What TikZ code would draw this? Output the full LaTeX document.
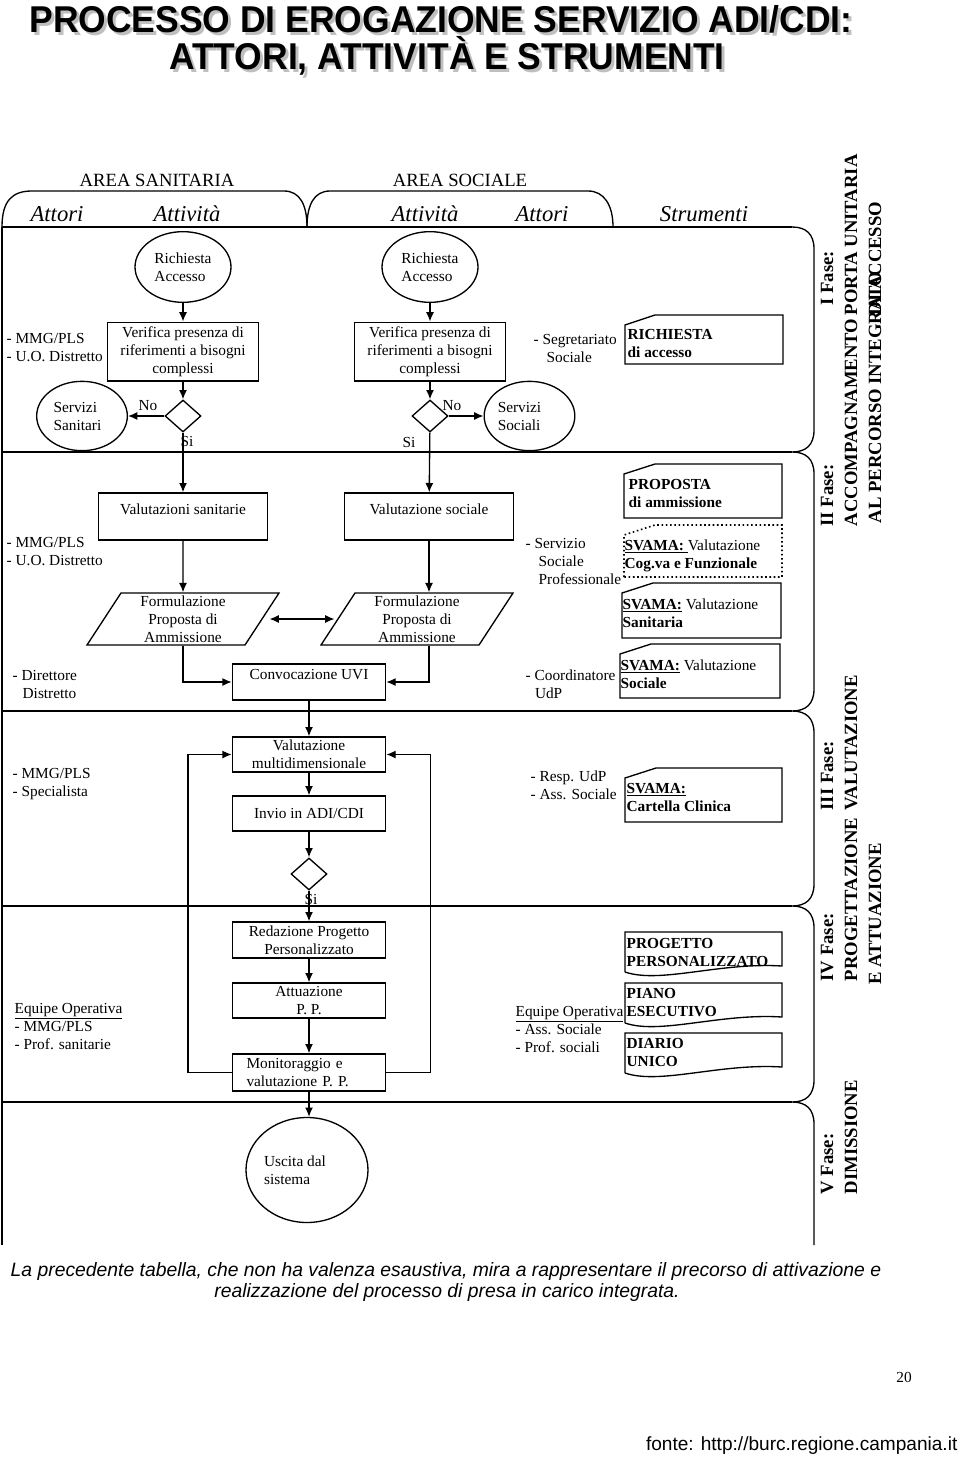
\documentclass[tikz,border=0pt]{standalone}
\usepackage{fontspec}
\setmainfont{Liberation Serif}
\setsansfont{Liberation Sans}
\usetikzlibrary{shapes.geometric,arrows.meta}

\tikzset{
  txt/.style={font=\fontsize{11.5}{13.5}\selectfont, inner sep=0pt},
  actbox/.style={txt, draw, rectangle, align=center, minimum width=115pt},
  startoval/.style={txt, draw, ellipse, align=left},
  decide/.style={draw, diamond, inner sep=0pt, minimum width=27pt, minimum height=24pt},
  propbox/.style={txt, draw, trapezium, trapezium left angle=54, trapezium right angle=126,
    trapezium stretches body=true, align=center, minimum width=144pt, minimum height=39pt},
  actor/.style={txt, align=left, anchor=base west},
  toolnote/.style={actor, font=\bfseries\fontsize{11.5}{13.5}\selectfont},
  fase/.style={rotate=90, anchor=base west, inner sep=0pt, font=\bfseries\fontsize{14}{16}\selectfont},
  colhead/.style={font=\itshape\fontsize{17}{20}\selectfont, anchor=base, inner sep=0pt},
  areahead/.style={font=\fontsize{14}{16}\selectfont, anchor=base, inner sep=0pt},
  titletxt/.style={font=\sffamily\bfseries\fontsize{28}{32}\selectfont, xscale=0.95, anchor=base, inner sep=0pt},
  notetxt/.style={font=\sffamily\itshape\fontsize{14.5}{17}\selectfont, anchor=base, inner sep=0pt},
}

\begin{document}
\begin{tikzpicture}[x=0.75pt, y=-0.75pt, line width=1pt, >={Latex[length=7pt,width=6pt]}]
    \useasboundingbox (0,0) rectangle (960,1459);

    % Title with shadow
    \node[titletxt, text=gray!50] at (444,36) {PROCESSO DI EROGAZIONE SERVIZIO ADI/CDI:};
    \node[titletxt] (title1) at (441,33) {PROCESSO DI EROGAZIONE SERVIZIO ADI/CDI:};
    \node[titletxt, text=gray!50] at (450,73) {ATTORI, ATTIVITÀ E STRUMENTI};
    \node[titletxt] (title2) at (447,70) {ATTORI, ATTIVITÀ E STRUMENTI};

    % Column headers
    \node[areahead] (areasan) at (157,186) {AREA SANITARIA};
    \node[areahead] (areasoc) at (460,186) {AREA SOCIALE};
    \draw (2,227) .. controls (2,201) and (12,191) .. (32,191) -- (284,191)
        .. controls (300,191) and (307,205) .. (307,227);
    \draw (307,227) .. controls (307,205) and (314,191) .. (330,191) -- (588,191)
        .. controls (604,191) and (613,205) .. (613,227);
    \node[colhead] (attori1) at (57,221) {Attori};
    \node[colhead] (attiv1) at (187,221) {Attività};
    \node[colhead] (attiv2) at (425,221) {Attività};
    \node[colhead] (attori2) at (542,221) {Attori};
    \node[colhead] (strum) at (704,221) {Strumenti};

    % Table frame and phase separators
    \draw (2,227) -- (2,1245);
    \foreach \y in {227,452,711,906,1102}
        \draw (2,\y) -- (792,\y);
    \draw (792,227) .. controls (806,227) and (814,234) .. (814,249)
        -- (814,430) .. controls (814,445) and (806,452) .. (792,452)
        .. controls (806,452) and (814,459) .. (814,474)
        -- (814,689) .. controls (814,704) and (806,711) .. (792,711)
        .. controls (806,711) and (814,718) .. (814,733)
        -- (814,884) .. controls (814,899) and (806,906) .. (792,906)
        .. controls (806,906) and (814,913) .. (814,928)
        -- (814,1080) .. controls (814,1095) and (806,1102) .. (792,1102)
        .. controls (806,1102) and (814,1109) .. (814,1124)
        -- (814,1245);

    % Phase labels
    \node[fase] (f1a) at (833,306) {I Fase:};
    \node[fase] (f1b) at (857,316) {PORTA UNITARIA};
    \node[fase] (f1c) at (881,316) {DI ACCESSO};
    \node[fase] (f2a) at (833,527) {II Fase:};
    \node[fase] (f2b) at (857,527) {ACCOMPAGNAMENTO};
    \node[fase] (f2c) at (881,524) {AL PERCORSO INTEGRATO};
    \node[fase] (f3a) at (833,811) {III Fase:};
    \node[fase] (f3b) at (857,811) {VALUTAZIONE};
    \node[fase] (f4a) at (833,982) {IV Fase:};
    \node[fase] (f4b) at (857,982) {PROGETTAZIONE};
    \node[fase] (f4c) at (881,985) {E ATTUAZIONE};
    \node[fase] (f5a) at (833,1195) {V Fase:};
    \node[fase] (f5b) at (857,1195) {DIMISSIONE};

    % Area sanitaria
    \node[startoval, minimum width=72pt, minimum height=53pt] (ric1) at (183,267) {Richiesta\\Accesso};
    \node[actbox, minimum width=113pt, minimum height=44pt] (ver1) at (183,351.5)
        {Verifica presenza di\\riferimenti a bisogni\\complessi};
    \node[decide] (dia1) at (183,416) {};
    \node[startoval, minimum width=68pt, minimum height=52pt] (sant) at (82,416)
        {Servizi\hspace*{10pt}\\Sanitari};
    \node[actbox, minimum width=127pt, text height=15.75pt, text depth=19.5pt] (val1) at (183,516.5)
        {Valutazioni sanitarie};
    \node[propbox] (form1) at (183,619) {Formulazione\\Proposta di\\Ammissione};

    % Area sociale
    \node[startoval, minimum width=72pt, minimum height=53pt] (ric2) at (430,267) {Richiesta\\Accesso};
    \node[actbox, minimum width=113pt, minimum height=44pt] (ver2) at (430,351.5)
        {Verifica presenza di\\riferimenti a bisogni\\complessi};
    \node[decide] (dia2) at (430,416) {};
    \node[startoval, minimum width=68pt, minimum height=52pt] (socs) at (529.5,416)
        {Servizi\hspace*{15pt}\\Sociali};
    \node[actbox, minimum width=127pt, text height=15.75pt, text depth=19.5pt] (val2) at (429,516.5)
        {Valutazione sociale};
    \node[propbox] (form2) at (417,619) {Formulazione\\Proposta di\\Ammissione};

    % Common path
    \node[actbox, text height=11.25pt, text depth=15.75pt] (uvi) at (309,682) {Convocazione UVI};
    \node[actbox, minimum height=26.25pt] (vmd) at (309,754.5) {Valutazione\\multidimensionale};
    \node[actbox, minimum height=26.25pt] (invio) at (309,813.5) {Invio in ADI/CDI};
    \node[decide] (dia3) at (309,874) {};
    \node[actbox, minimum height=27pt] (redaz) at (309,940) {Redazione Progetto\\Personalizzato};
    \node[actbox, minimum height=26.25pt] (attu) at (309,1000.5) {Attuazione\\P. P.};
    \node[txt, draw, align=left, text width=93.75pt, inner xsep=10.5pt, minimum height=27.75pt] (moni)
        at (309,1072.5) {Monitoraggio e\\valutazione P. P.};
    \node[startoval, minimum width=91.5pt, minimum height=78.75pt] (usc) at (307,1170)
        {Uscita dal\hspace*{18pt}\\sistema};

    % Decision labels
    \node[txt] (no1) at (148,406) {No};
    \node[txt] (si1) at (187,441) {Si};
    \node[txt] (no2) at (452,406) {No};
    \node[txt] (si2) at (409,442) {Si};
    \node[txt] (si3) at (311,899) {Si};

    % Connectors
    \draw[->] (ric1) -- (ver1);
    \draw[->] (ver1) -- (dia1);
    \draw[->] (dia1) -- (sant);
    \draw[->] (dia1) -- (val1);
    \draw[->] (val1) -- (form1);
    \draw[->] (ric2) -- (ver2);
    \draw[->] (ver2) -- (dia2);
    \draw[->] (dia2) -- (socs);
    \draw[->] (dia2) -- (val2);
    \draw[->] (val2.south) -- (val2.south |- form2.north);
    \draw[<->, shorten <=5pt, shorten >=2pt] (form1.east) -- (form2.west);
    \draw[->] (form1.south) |- (uvi.west);
    \draw[->] (form2.south -| val2.south) |- (uvi.east);
    \draw[->] (uvi) -- (vmd);
    \draw[->] (vmd) -- (invio);
    \draw[->] (invio) -- (dia3);
    \draw[->] (dia3) -- (redaz);
    \draw[->] (redaz) -- (attu);
    \draw[->] (attu) -- (moni);
    \draw[->] (moni.south) -- (moni.south |- usc.north);
    \draw[->] (moni.west) -- ++(-44,0) |- (vmd.west);
    \draw[->] (moni.east) -- ++(44,0) |- (vmd.east);

    % Attori area sanitaria (anchored at the baseline of the last line)
    \node[actor] (att1) at (6,361) {- MMG/PLS\\- U.O. Distretto};
    \node[actor] (att2) at (6,565) {- MMG/PLS\\- U.O. Distretto};
    \node[actor] (att3) at (12,698) {- Direttore\\\hspace*{7.5pt}Distretto};
    \node[actor] (att4) at (12,796) {- MMG/PLS\\- Specialista};
    \node[actor] (att5) at (14,1049) {\underline{Equipe Operativa}\\- MMG/PLS\\- Prof. sanitarie};

    % Attori area sociale
    \node[actor] (att6) at (533,362) {- Segretariato\\\hspace*{9.75pt}Sociale};
    \node[actor] (att7) at (525,584) {- Servizio\\\hspace*{9.75pt}Sociale\\\hspace*{9.75pt}Professionale};
    \node[actor] (att8) at (525,698) {- Coordinatore\\\hspace*{7pt}UdP};
    \node[actor] (att9) at (530,799) {- Resp. UdP\\- Ass. Sociale};
    \node[actor] (att10) at (515,1052) {\underline{Equipe Operativa}\\- Ass. Sociale\\- Prof. sociali};

    % Strumenti
    \draw (625,364) -- (625,325) -- (655,315) -- (783,315) -- (783,364) -- cycle;
    \node[toolnote] (str1) at (627,357) {RICHIESTA\\di accesso};
    \draw (624,518) -- (624,474) -- (655,464) -- (782,464) -- (782,518) -- cycle;
    \node[toolnote] (str2) at (628,507) {PROPOSTA\\di ammissione};
    \draw[dotted, line width=1.2pt] (624,577) -- (624,535) -- (655,525) -- (782,525) -- (782,577) -- cycle;
    \node[toolnote] (str3) at (624,568) {\underline{SVAMA:\ }{\mdseries Valutazione}\\Cog.va e Funzionale};
    \draw (622,638) -- (622,593) -- (653,583) -- (781,583) -- (781,638) -- cycle;
    \node[toolnote] (str4) at (622,627) {\underline{SVAMA:}{\mdseries\ Valutazione}\\Sanitaria};
    \draw (620,698) -- (620,654) -- (651,644) -- (780,644) -- (780,698) -- cycle;
    \node[toolnote] (str5) at (620,688) {\underline{SVAMA:}{\mdseries\ Valutazione}\\Sociale};
    \draw (625,822) -- (625,778) -- (656,768) -- (782,768) -- (782,822) -- cycle;
    \node[toolnote] (str6) at (626,811) {\underline{SVAMA:}\\Cartella Clinica};
    \draw (625,972) -- (625,932) -- (782,932) -- (782,966) .. controls (720,962) and (660,984) .. (625,972);
    \node[toolnote] (str7) at (626,966) {PROGETTO\\PERSONALIZZATO};
    \draw (625,1023) -- (625,983) -- (782,983) -- (782,1017) .. controls (720,1013) and (660,1035) .. (625,1023);
    \node[toolnote] (str8) at (626,1016) {PIANO\\ESECUTIVO};
    \draw (625,1073) -- (625,1033) -- (782,1033) -- (782,1067) .. controls (720,1063) and (660,1085) .. (625,1073);
    \node[toolnote] (str9) at (626,1066) {DIARIO\\UNICO};

    % Note and source
    \node[notetxt] (nota1) at (446,1276)
        {La precedente tabella, che non ha valenza esaustiva, mira a rappresentare il precorso di attivazione e};
    \node[notetxt] (nota2) at (447,1297)
        {realizzazione del processo di presa in carico integrata.};
    \node[font=\fontsize{11.5}{13}\selectfont, anchor=base, inner sep=0pt] (pagina) at (904,1382) {20};
    \node[font=\sffamily\fontsize{14.3}{16}\selectfont, anchor=base east, inner sep=0pt] (fonte) at (958,1450)
        {fonte: http://burc.regione.campania.it};
\end{tikzpicture}
\end{document}
